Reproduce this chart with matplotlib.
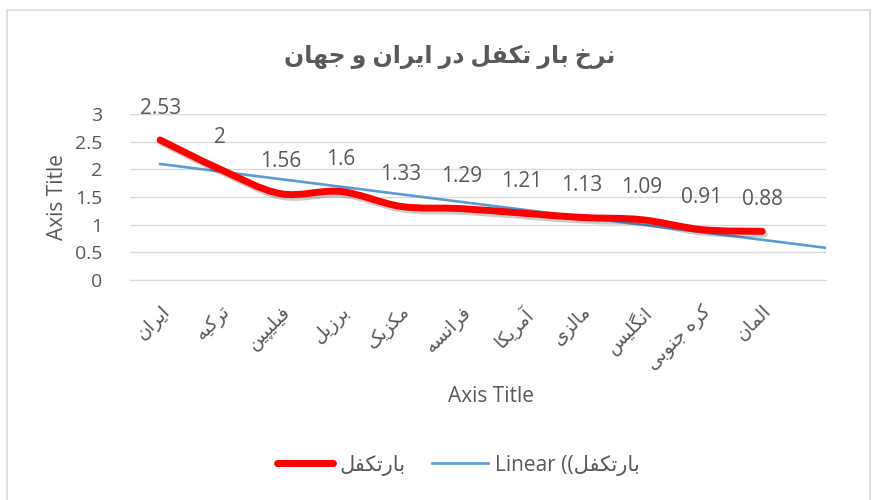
import numpy as np
import matplotlib
matplotlib.use("Agg")
import matplotlib.pyplot as plt
from matplotlib.path import Path
from matplotlib.patches import PathPatch, Rectangle
from matplotlib.lines import Line2D
import matplotlib.patheffects as pe

# data
countries = ["ایران", "ترکیه", "فیلیپین", "برزیل", "مکزیک", "فرانسه",
             "آمریکا", "مالزی", "انگلیس", "کره جنوبی", "المان"]
ratios = [2.53, 2, 1.56, 1.6, 1.33, 1.29, 1.21, 1.13, 1.09, 0.91, 0.88]
title_txt = "نرخ بار تکفل در ایران و جهان"
series_name = "بارتکفل"

# minimal persian shaping (matplotlib does no shaping / bidi)
FORMS = {
    'ا': ('\uFE8D', '\uFE8E', None, None),
    'آ': ('\uFE81', '\uFE82', None, None),
    'د': ('\uFEA9', '\uFEAA', None, None),
    'ر': ('\uFEAD', '\uFEAE', None, None),
    'ز': ('\uFEAF', '\uFEB0', None, None),
    'و': ('\uFEED', '\uFEEE', None, None),
    'ب': ('\uFE8F', '\uFE90', '\uFE91', '\uFE92'),
    'پ': ('\uFB56', '\uFB57', '\uFB58', '\uFB59'),
    'ت': ('\uFE95', '\uFE96', '\uFE97', '\uFE98'),
    'ج': ('\uFE9D', '\uFE9E', '\uFE9F', '\uFEA0'),
    'خ': ('\uFEA5', '\uFEA6', '\uFEA7', '\uFEA8'),
    'س': ('\uFEB1', '\uFEB2', '\uFEB3', '\uFEB4'),
    'ف': ('\uFED1', '\uFED2', '\uFED3', '\uFED4'),
    'ک': ('\uFB8E', '\uFB8F', '\uFB90', '\uFB91'),
    'گ': ('\uFB92', '\uFB93', '\uFB94', '\uFB95'),
    'ل': ('\uFEDD', '\uFEDE', '\uFEDF', '\uFEE0'),
    'م': ('\uFEE1', '\uFEE2', '\uFEE3', '\uFEE4'),
    'ن': ('\uFEE5', '\uFEE6', '\uFEE7', '\uFEE8'),
    'ه': ('\uFEE9', '\uFEEA', '\uFEEB', '\uFEEC'),
    'ی': ('\uFBFC', '\uFBFD', '\uFBFE', '\uFBFF'),
}


def fa(s):
    out = []
    for i, c in enumerate(s):
        if c not in FORMS:
            out.append(c)
            continue
        f = FORMS[c]
        jp = i > 0 and s[i - 1] in FORMS and FORMS[s[i - 1]][2] is not None
        jn = f[2] is not None and i + 1 < len(s) and s[i + 1] in FORMS
        if jp and jn:
            out.append(f[3])
        elif jp:
            out.append(f[1])
        elif jn:
            out.append(f[2])
        else:
            out.append(f[0])
    return "".join(out[::-1])


plt.rcParams['font.family'] = ['Open Sans', 'DejaVu Sans']
grey = "#595959"

fig = plt.figure(figsize=(8.74, 5), dpi=100)
fig.patches.append(Rectangle((7 / 874, -0.01), 863 / 874, 1 - 10 / 500 + 0.01,
                             transform=fig.transFigure, fill=False,
                             edgecolor="#D9D9D9", linewidth=1.2))

ax = fig.add_axes([130 / 874, 0.44, (826 - 130) / 874, 0.772 - 0.44])
x = np.arange(len(ratios))
y = np.array(ratios)

# smoothed line like excel (cardinal bezier)
verts = [(x[0], y[0])]
codes = [Path.MOVETO]
n = len(x)
for i in range(n - 1):
    p0 = np.array([x[max(i - 1, 0)], y[max(i - 1, 0)]])
    p1 = np.array([x[i], y[i]])
    p2 = np.array([x[i + 1], y[i + 1]])
    p3 = np.array([x[min(i + 2, n - 1)], y[min(i + 2, n - 1)]])
    c1 = p1 + (p2 - p0) / 6
    c2 = p2 - (p3 - p1) / 6
    verts += [tuple(c1), tuple(c2), tuple(p2)]
    codes += [Path.CURVE4] * 3
red = PathPatch(Path(verts, codes), fill=False, edgecolor="#FF0000",
                linewidth=5, capstyle="round", joinstyle="round", zorder=4)
red.set_path_effects([pe.SimpleLineShadow(offset=(1.5, -2), shadow_color="k", alpha=0.2),
                      pe.Normal()])
ax.add_patch(red)

# linear trendline, forecast forward ~1 period
k, b = np.polyfit(x, y, 1)
xt = np.array([0, 11.06])
ax.plot(xt, k * xt + b, color="#5B9BD5", linewidth=1.9, zorder=3)

for xi, yi in zip(x, ratios):
    ax.annotate(f"{yi:g}", (xi, yi), xytext=(0, 23), textcoords="offset points",
                ha="center", va="center", fontsize=15, color=grey)

ax.set_xlim(-0.5, 11.06)
ax.set_ylim(0, 3)
ax.set_yticks(np.arange(0, 3.01, 0.5))
ax.set_yticklabels([f"{v:g}" for v in np.arange(0, 3.01, 0.5)])
ax.grid(axis="y", color="#D9D9D9", linewidth=1)
ax.set_axisbelow(True)
for s in ["top", "right", "left"]:
    ax.spines[s].set_visible(False)
ax.spines["bottom"].set_color("#D9D9D9")
ax.tick_params(axis="y", length=0, pad=20, labelsize=14, labelcolor=grey)
ax.set_xticks(x)
ax.set_xticklabels([fa(c) for c in countries], rotation=45, ha="right",
                   rotation_mode="anchor", fontsize=13.5, color=grey)
ax.tick_params(axis="x", length=0, pad=16)

fig.text(491 / 874, 1 - 397 / 500, "Axis Title", ha="center", va="center",
         fontsize=15, color=grey)
fig.text(58 / 874, 1 - 197 / 500, "Axis Title", ha="center", va="center",
         rotation=90, fontsize=15, color=grey)
fig.text(450 / 874, 1 - 57 / 500, fa(title_txt), ha="center", va="center",
         fontsize=17, fontweight="bold", color=grey)

handles = [Line2D([], [], color="#FF0000", linewidth=5, solid_capstyle="round"),
           Line2D([], [], color="#5B9BD5", linewidth=1.9)]
labels = [fa(series_name), "Linear ((" + fa(series_name)]
fig.legend(handles, labels, loc="center", bbox_to_anchor=(458 / 874, 1 - 465 / 500),
           ncol=2, frameon=False, fontsize=15, labelcolor=grey,
           handlelength=2.7, handletextpad=0.3, columnspacing=1.3)

fig.savefig("out.png", dpi=100)
